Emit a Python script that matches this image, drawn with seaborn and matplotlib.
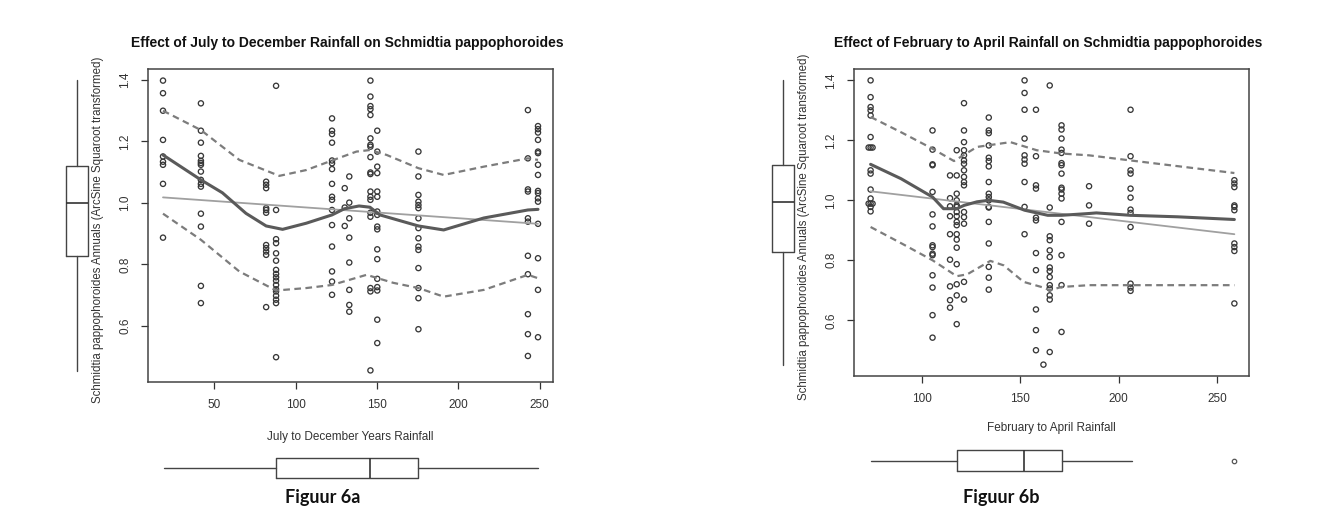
import numpy as np
import pandas as pd
import matplotlib
matplotlib.use("Agg")
import matplotlib.pyplot as plt
import seaborn as sns

# ---------------- data ----------------
# Figure 6a: July to December rainfall
a_cols = [18.5, 41.8, 81.9, 88.0, 122.4, 130.2, 133.0, 146.0, 150.2, 175.5, 242.8, 249.0]
a_vals = [
    [1.398, 1.357, 1.300, 1.205, 1.151, 1.134, 1.124, 1.062, 0.887],
    [1.324, 1.235, 1.196, 1.153, 1.137, 1.130, 1.124, 1.102, 1.075, 1.062, 1.053, 0.965, 0.923, 0.730, 0.674],
    [1.069, 1.059, 1.048, 0.983, 0.977, 0.968, 0.863, 0.853, 0.842, 0.831, 0.661],
    [1.381, 0.977, 0.882, 0.869, 0.836, 0.812, 0.782, 0.769, 0.758, 0.747, 0.733, 0.719, 0.712, 0.698, 0.685, 0.674, 0.498],
    [1.275, 1.235, 1.224, 1.196, 1.138, 1.129, 1.110, 1.062, 1.020, 1.010, 0.977, 0.928, 0.858, 0.777, 0.744, 0.701],
    [1.048, 0.985, 0.925],
    [1.086, 1.001, 0.950, 0.887, 0.806, 0.717, 0.668, 0.646],
    [1.398, 1.346, 1.315, 1.305, 1.286, 1.210, 1.189, 1.183, 1.149, 1.099, 1.094, 1.037, 1.020, 1.010, 0.968, 0.955, 0.723, 0.712, 0.455],
    [1.235, 1.167, 1.118, 1.097, 1.037, 1.020, 0.972, 0.923, 0.961, 0.914, 0.849, 0.817, 0.753, 0.726, 0.715, 0.620, 0.544],
    [1.167, 1.086, 1.026, 1.004, 0.993, 0.983, 0.950, 0.918, 0.885, 0.858, 0.847, 0.788, 0.723, 0.690, 0.589],
    [1.302, 1.145, 1.044, 1.037, 0.950, 0.939, 0.828, 0.768, 0.638, 0.573, 0.502],
    [1.250, 1.240, 1.229, 1.205, 1.167, 1.162, 1.124, 1.091, 1.039, 1.032, 1.015, 1.004, 0.932, 0.820, 0.717, 0.563],
]
a_smooth_x = [18.5, 30, 41.8, 55, 69.5, 81.9, 92, 106.6, 122.4, 130, 139, 145.7, 151.8, 175.5, 191, 215.7, 242.8, 249]
a_smooth_y = [1.156, 1.116, 1.075, 1.033, 0.966, 0.925, 0.914, 0.934, 0.961, 0.981, 0.990, 0.986, 0.961, 0.925, 0.912, 0.951, 0.977, 0.979]
a_upper_x = [18.5, 41.8, 65.4, 90, 106.6, 122.4, 137.4, 145.7, 156, 175.5, 191, 215.7, 242.8, 249]
a_upper_y = [1.300, 1.237, 1.140, 1.088, 1.107, 1.138, 1.167, 1.172, 1.156, 1.113, 1.091, 1.118, 1.145, 1.140]
a_lower_x = [18.5, 41.8, 65.4, 88, 106.6, 122.4, 143.6, 160, 175.5, 191, 215.7, 242.8, 249]
a_lower_y = [0.965, 0.880, 0.777, 0.715, 0.723, 0.733, 0.766, 0.740, 0.723, 0.695, 0.717, 0.766, 0.755]
a_trend_x = [18.5, 249]
a_trend_y = [1.018, 0.932]
a_xbox = dict(whislo=19.1, q1=88.0, med=146.0, q3=175.0, whishi=248.8)
a_ybox = dict(whislo=0.452, q1=0.828, med=1.000, q3=1.120, whishi=1.400)

# Figure 6b: February to April rainfall
b_cols = [72.9, 73.9, 74.9, 105.4, 114.3, 117.7, 121.4, 134.0, 152.2, 158.0, 161.8, 165.0, 171.0, 185.0, 206.1, 258.9]
b_vals = [
    [1.176, 0.989],
    [1.400, 1.344, 1.311, 1.300, 1.283, 1.211, 1.176, 1.100, 1.089, 1.036, 1.006, 0.989, 0.978, 0.963],
    [1.176, 0.989],
    [1.233, 1.169, 1.120, 1.117, 1.028, 0.953, 0.913, 0.850, 0.844, 0.822, 0.817, 0.750, 0.709, 0.617, 0.542],
    [1.083, 1.007, 0.980, 0.947, 0.887, 0.802, 0.713, 0.667, 0.642],
    [1.167, 1.083, 1.022, 1.000, 0.978, 0.961, 0.928, 0.983, 0.947, 0.917, 0.887, 0.869, 0.842, 0.787, 0.720, 0.683, 0.587],
    [1.324, 1.233, 1.194, 1.167, 1.150, 1.133, 1.122, 1.100, 1.078, 1.061, 1.050, 0.944, 0.961, 0.922, 0.728, 0.669],
    [1.276, 1.233, 1.224, 1.183, 1.142, 1.131, 1.113, 1.061, 1.022, 1.011, 1.000, 0.978, 0.928, 0.976, 0.856, 0.778, 0.742, 0.702],
    [1.400, 1.358, 1.302, 1.206, 1.150, 1.136, 1.122, 1.061, 0.978, 0.887],
    [1.302, 1.147, 1.050, 1.039, 0.942, 0.933, 0.824, 0.767, 0.636, 0.567, 0.500],
    [0.452],
    [1.383, 0.976, 0.880, 0.867, 0.833, 0.811, 0.776, 0.764, 0.744, 0.717, 0.706, 0.683, 0.669, 0.494],
    [1.250, 1.236, 1.206, 1.169, 1.158, 1.124, 1.117, 1.089, 1.042, 1.036, 1.022, 1.006, 0.928, 0.817, 0.717, 0.561],
    [1.047, 0.983, 0.922],
    [1.302, 1.147, 1.100, 1.089, 1.039, 1.009, 0.969, 0.958, 0.911, 0.722, 0.709, 0.698],
    [1.067, 1.056, 1.044, 0.983, 0.978, 0.967, 0.856, 0.844, 0.831, 0.656],
]
b_smooth_x = [73.9, 89.4, 105.4, 111, 117.7, 121.4, 128, 134, 141.4, 152.2, 164, 171, 185, 188.7, 206, 230, 258.9]
b_smooth_y = [1.120, 1.072, 1.011, 0.972, 0.972, 0.983, 0.995, 1.000, 0.994, 0.967, 0.950, 0.950, 0.956, 0.958, 0.950, 0.945, 0.936]
b_upper_x = [73.9, 90, 105.4, 116.3, 128, 145, 158.4, 171, 185, 206, 258.9]
b_upper_y = [1.278, 1.225, 1.172, 1.131, 1.178, 1.194, 1.167, 1.156, 1.150, 1.133, 1.091]
b_lower_x = [73.9, 90, 105.4, 117.7, 123, 134.8, 141.6, 151.7, 161.8, 165, 171, 185, 206, 258.9]
b_lower_y = [0.911, 0.855, 0.800, 0.747, 0.753, 0.798, 0.783, 0.728, 0.709, 0.700, 0.711, 0.717, 0.717, 0.717]
b_trend_x = [73.9, 258.9]
b_trend_y = [1.030, 0.887]
b_xbox = dict(whislo=74.2, q1=117.7, med=152.0, q3=171.0, whishi=206.6, fliers=[258.9])
b_ybox = dict(whislo=0.452, q1=0.827, med=0.995, q3=1.118, whishi=1.400)

a_title = "Effect of July to December Rainfall on Schmidtia pappophoroides"
b_title = "Effect of February to April Rainfall on Schmidtia pappophoroides"
a_xlabel = "July to December Years Rainfall"
b_xlabel = "February to April Rainfall"
ylabel = "Schmidtia pappophoroides Annuals (ArcSine Squaroot transformed)"
a_caption = "Figuur 6a"
b_caption = "Figuur 6b"
a_xticks = [50, 100, 150, 200, 250]
b_xticks = [100, 150, 200, 250]
yticks = [0.6, 0.8, 1.0, 1.2, 1.4]

# ---------------- figure ----------------
W, H = 1318, 514
sns.set_theme(style="white")
plt.rcParams['font.family'] = ['Liberation Sans', 'DejaVu Sans']
fig = plt.figure(figsize=(W / 100, H / 100), dpi=100)
fig.patch.set_facecolor("white")

INK = "#333333"


def px_axes(x0, y0, x1, y1, **kw):
    return fig.add_axes([x0 / W, 1 - y1 / H, (x1 - x0) / W, (y1 - y0) / H], **kw)


def to_df(cols, vals):
    xs, ys = [], []
    for c, v in zip(cols, vals):
        xs += [c] * len(v)
        ys += list(v)
    return pd.DataFrame({"x": xs, "y": ys})


def bstats(d):
    s = dict(d)
    s.setdefault("fliers", [])
    return s


def panel(box, ybox_px, xbox_px, cols, vals, sx, sy, ux, uy, lx, ly, tx, ty,
          xb, yb, xticks, title, xlabel, caption, ylabel_x, xlabel_y, caption_xy):
    df = to_df(cols, vals)
    ax = px_axes(*box)
    sns.scatterplot(data=df, x="x", y="y", ax=ax, marker="o", s=14,
                    facecolors="none", edgecolor="#383838", linewidth=0.95, zorder=3)
    sns.lineplot(x=tx, y=ty, ax=ax, color="#a0a0a0", lw=1.3, estimator=None, zorder=4)
    sns.lineplot(x=ux, y=uy, ax=ax, color="#7c7c7c", lw=1.6, estimator=None,
                 dashes=False, linestyle=(0, (3, 2)), zorder=4)
    sns.lineplot(x=lx, y=ly, ax=ax, color="#7c7c7c", lw=1.6, estimator=None,
                 dashes=False, linestyle=(0, (3, 2)), zorder=4)
    sns.lineplot(x=sx, y=sy, ax=ax, color="#5a5a5a", lw=2.2, estimator=None, zorder=5)

    xr = df["x"].max() - df["x"].min()
    yr = df["y"].max() - df["y"].min()
    ax.set_xlim(df["x"].min() - 0.04 * xr, df["x"].max() + 0.04 * xr)
    ax.set_ylim(df["y"].min() - 0.04 * yr, df["y"].max() + 0.04 * yr)
    ax.set_xticks(xticks)
    ax.set_yticks(yticks)
    ax.set_xticklabels([str(t) for t in xticks])
    ax.set_yticklabels([f"{t:.1f}" for t in yticks], rotation=90, va="center")
    ax.set_xlabel("")
    ax.set_ylabel("")
    ax.tick_params(direction="out", length=5, width=0.9, color=INK, labelsize=8.5,
                   labelcolor=INK, pad=7, bottom=True, left=True)
    for sp in ax.spines.values():
        sp.set_visible(True)
        sp.set_color("#444444")
        sp.set_linewidth(1.1)

    # vertical marginal boxplot
    ay = px_axes(*ybox_px, sharey=ax)
    ay.bxp([bstats(yb)], positions=[0], widths=1.0, vert=True, showcaps=False,
           showfliers=False, patch_artist=False,
           boxprops=dict(color="#444444", lw=1.0),
           whiskerprops=dict(color="#444444", lw=1.0),
           medianprops=dict(color="#333333", lw=1.2))
    ay.set_xlim(-1, 1)
    ay.axis("off")

    # horizontal marginal boxplot
    axb = px_axes(*xbox_px, sharex=ax)
    axb.bxp([bstats(xb)], positions=[0], widths=0.95, vert=False, showcaps=False,
            showfliers=True, patch_artist=False,
            boxprops=dict(color="#444444", lw=1.0),
            whiskerprops=dict(color="#444444", lw=1.0),
            medianprops=dict(color="#333333", lw=1.2),
            flierprops=dict(marker="o", markersize=3.2, markerfacecolor="none",
                            markeredgecolor="#555555", markeredgewidth=0.9))
    axb.set_ylim(-1, 1)
    axb.axis("off")

    cx = (box[0] + box[2]) / 2 / W
    cy = 1 - (box[1] + box[3]) / 2 / H
    fig.text(cx - 3 / W, 1 - 43 / H, title, ha="center", va="center", fontsize=10,
             fontweight="bold", color="#111111")
    fig.text(cx, 1 - xlabel_y / H, xlabel, ha="center", va="center", fontsize=8.5, color=INK)
    fig.text(ylabel_x / W, cy - 4 / H, ylabel, ha="center", va="center", rotation=90,
             fontsize=8.3, color=INK)
    fig.text(caption_xy[0] / W, 1 - caption_xy[1] / H, caption, ha="center", va="center",
             fontsize=13, fontweight="bold", color="#111111",
             family=["Lato", "DejaVu Sans"])


panel((148, 69, 553, 382), (55, 69, 99, 382), (148, 446, 553, 490),
      a_cols, a_vals, a_smooth_x, a_smooth_y, a_upper_x, a_upper_y,
      a_lower_x, a_lower_y, a_trend_x, a_trend_y, a_xbox, a_ybox, a_xticks,
      a_title, a_xlabel, a_caption, 98, 437, (323, 497))

panel((854, 69, 1249, 376), (761, 69, 805, 376), (854, 438.5, 1249, 482.5),
      b_cols, b_vals, b_smooth_x, b_smooth_y, b_upper_x, b_upper_y,
      b_lower_x, b_lower_y, b_trend_x, b_trend_y, b_xbox, b_ybox, b_xticks,
      b_title, b_xlabel, b_caption, 804, 428, (1001, 498))

fig.savefig("out.png", dpi=100, facecolor="white")
